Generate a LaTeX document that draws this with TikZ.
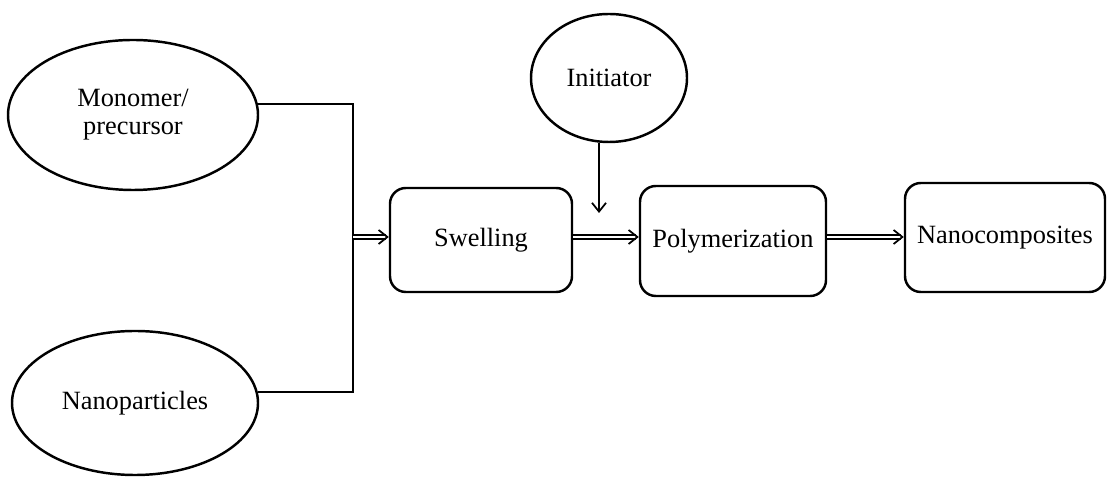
\documentclass[tikz,border=0pt]{standalone}
\usepackage{fontspec}
\setmainfont{Liberation Serif}
\usetikzlibrary{shapes.geometric, arrows.meta}
\tikzstyle{src}=[shape=ellipse, draw, line width=1.4pt, inner sep=0, align=center, font=\fontsize{15}{16}\selectfont]
\tikzstyle{stage}=[shape=rectangle, draw, line width=1.4pt, rounded corners=9pt, inner sep=0, font=\fontsize{15}{17}\selectfont]
\tikzstyle{feed}=[line width=1pt]
\tikzstyle{flow}=[double, double distance=1.2pt, line width=0.9pt, -{Straight Barb[length=5pt, width=8pt, line width=1pt]}]

\begin{document}
\begin{tikzpicture}
\useasboundingbox (0,0) rectangle (22.14,-9.54);
\node at (2.66,-2.30)[src, minimum width=5.0cm, minimum height=3.0cm](mono){Monomer/\\precursor};
\node at (2.70,-8.06)[src, minimum width=4.92cm, minimum height=2.88cm](nano){Nanoparticles};
\node at (12.18,-1.56)[src, minimum width=3.12cm, minimum height=2.56cm](init){Initiator};
\node at (9.62,-4.80)[stage, minimum width=3.64cm, minimum height=2.08cm](swell){Swelling};
\node at (14.66,-4.82)[stage, minimum width=3.72cm, minimum height=2.2cm](poly){Polymerization};
\node at (20.10,-4.75)[stage, minimum width=4.0cm, minimum height=2.18cm](comp){Nanocomposites};
\coordinate (jn) at (7.06,-4.74);
\coordinate (ia) at (11.98,-4.26);
\draw[feed] (mono.5) -| (jn) |- (nano.5);
\draw[flow] (jn) -- (swell.west |- jn);
\draw[flow] (swell.east |- jn) -- (poly.west |- jn);
\draw[flow] (poly.east |- jn) -- (comp.west |- jn);
\draw[feed, -{Straight Barb[length=5pt, width=8pt]}] (init.south -| ia) -- (ia);
\end{tikzpicture}
\end{document}
